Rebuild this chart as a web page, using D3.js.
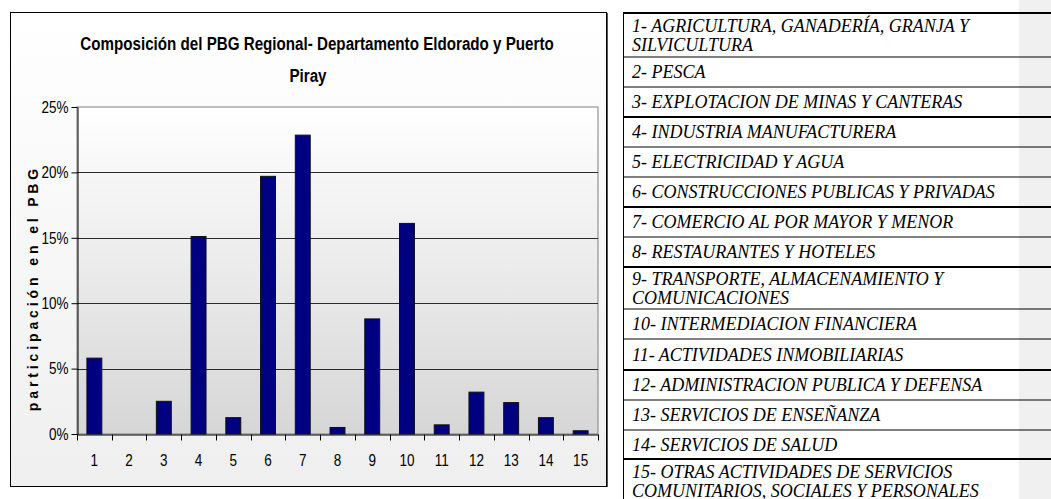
<!DOCTYPE html>
<meta charset="utf-8">
<style>
body { margin: 0; background: #fff; }
svg { display: block; }
.narrow { font-family: "Liberation Sans", Arial, sans-serif; }
.axis text { font-size: 16.5px; fill: #000; }
.axis path, .axis line { stroke: #000; }
.row text { font-family: "Liberation Serif", "Times New Roman", serif; font-style: italic; font-size: 18px; fill: #000; }
</style>
<svg width="1051" height="499"></svg>
<script src="https://cdn.jsdelivr.net/npm/d3@7"></script>
<script>
// data
var sectors = ["1","2","3","4","5","6","7","8","9","10","11","12","13","14","15"];
var shares = [0.058, 0, 0.025, 0.151, 0.0125, 0.197, 0.2285, 0.005, 0.088, 0.161, 0.007, 0.032, 0.024, 0.0125, 0.0025];
var yTicks = [0, 0.05, 0.10, 0.15, 0.20, 0.25];
var titleLines = ["Composición del PBG Regional- Departamento Eldorado y Puerto", "Piray"];
var yTitle = "p a r t i c i p a c i ó n   e n   e l   P B G";
var sectorLabels = [
  ["1- AGRICULTURA, GANADERÍA, GRANJA Y", "SILVICULTURA"],
  ["2- PESCA"],
  ["3- EXPLOTACION DE MINAS Y CANTERAS"],
  ["4- INDUSTRIA MANUFACTURERA"],
  ["5- ELECTRICIDAD Y AGUA"],
  ["6- CONSTRUCCIONES PUBLICAS Y PRIVADAS"],
  ["7- COMERCIO AL POR MAYOR Y MENOR"],
  ["8- RESTAURANTES Y HOTELES"],
  ["9- TRANSPORTE, ALMACENAMIENTO Y", "COMUNICACIONES"],
  ["10- INTERMEDIACION FINANCIERA"],
  ["11- ACTIVIDADES INMOBILIARIAS"],
  ["12- ADMINISTRACION PUBLICA Y DEFENSA"],
  ["13- SERVICIOS DE ENSEÑANZA"],
  ["14- SERVICIOS DE SALUD"],
  ["15- OTRAS ACTIVIDADES DE SERVICIOS", "COMUNITARIOS, SOCIALES Y PERSONALES"]
];

// no narrow face installed, so squeeze the sans horizontally instead
var squeeze = 0.82;

var svg = d3.select("svg");
var defs = svg.append("defs");

var g1 = defs.append("linearGradient").attr("id", "chartBg").attr("x1", 0).attr("y1", 0).attr("x2", 0).attr("y2", 1);
g1.append("stop").attr("offset", "0%").attr("stop-color", "#ffffff");
g1.append("stop").attr("offset", "100%").attr("stop-color", "#efefef");
var g2 = defs.append("linearGradient").attr("id", "plotBg").attr("x1", 0).attr("y1", 0).attr("x2", 0).attr("y2", 1);
g2.append("stop").attr("offset", "0%").attr("stop-color", "#ffffff");
g2.append("stop").attr("offset", "100%").attr("stop-color", "#d6d6d6");

// chart frame
var box = {left: 10, top: 12, right: 606, bottom: 486};
svg.append("rect")
    .attr("x", box.left + 0.5).attr("y", box.top + 0.5)
    .attr("width", box.right - box.left).attr("height", box.bottom - box.top)
    .attr("fill", "url(#chartBg)")
    .attr("stroke", "#000").attr("stroke-width", 1);
svg.append("line")
    .attr("x1", box.right + 1.5).attr("x2", box.right + 1.5)
    .attr("y1", box.top + 1).attr("y2", box.bottom + 1)
    .attr("stroke", "#555");

var plot = {left: 77, top: 107, right: 598, bottom: 434};

var x = d3.scaleBand().domain(sectors).range([plot.left, plot.right]).paddingInner(0.57).paddingOuter(0.285);
var y = d3.scaleLinear().domain([0, 0.25]).range([plot.bottom, plot.top]);

svg.append("rect")
    .attr("x", plot.left).attr("y", plot.top)
    .attr("width", plot.right - plot.left).attr("height", plot.bottom - plot.top)
    .attr("fill", "url(#plotBg)")
    .attr("stroke", "#808080");

// gridlines
svg.append("g").selectAll("line")
    .data(yTicks.filter(function(d) { return d > 0 && d < 0.25; }))
  .enter().append("line")
    .attr("x1", plot.left).attr("x2", plot.right)
    .attr("y1", function(d) { return Math.round(y(d)) + 0.5; })
    .attr("y2", function(d) { return Math.round(y(d)) + 0.5; })
    .attr("stroke", "#2a2a2a");

// bars
svg.append("g").selectAll("rect")
    .data(shares)
  .enter().append("rect")
    .attr("x", function(d, i) { return x(sectors[i]); })
    .attr("y", function(d) { return y(d); })
    .attr("width", x.bandwidth())
    .attr("height", function(d) { return y(0) - y(d); })
    .attr("fill", "#000080")
    .attr("stroke", "#111")
    .attr("stroke-width", function(d) { return d > 0 ? 1 : 0; });

// y axis
var yAxis = svg.append("g")
    .attr("class", "axis narrow")
    .attr("transform", "translate(" + (plot.left + 0.5) + ",0)")
    .call(d3.axisLeft(y).tickValues(yTicks).tickFormat(d3.format(".0%")).tickSize(6).tickPadding(3).tickSizeOuter(0));
yAxis.selectAll(".tick text")
    .attr("x", -9 / squeeze)
    .attr("transform", "scale(" + squeeze + ",1)");

// x axis: labels at band centres, ticks on band edges
var xAxis = svg.append("g")
    .attr("class", "axis narrow")
    .attr("transform", "translate(0," + (plot.bottom + 0.5) + ")")
    .call(d3.axisBottom(x).tickSize(0).tickPadding(20).tickSizeOuter(0));
xAxis.selectAll(".tick text")
    .attr("dy", "0.71em")
    .attr("transform", "scale(" + squeeze + ",1)");
xAxis.selectAll(".edge")
    .data(d3.range(sectors.length + 1))
  .enter().append("line")
    .attr("class", "edge")
    .attr("x1", function(i) { return Math.round(plot.left + i * x.step()) + 0.5; })
    .attr("x2", function(i) { return Math.round(plot.left + i * x.step()) + 0.5; })
    .attr("y1", 0).attr("y2", 6);

// titles
svg.append("g").selectAll("text")
    .data(titleLines)
  .enter().append("text")
    .attr("class", "narrow")
    .attr("transform", function(d, i) {
      return "translate(" + (i === 0 ? 317 : 308) + "," + (50 + i * 32) + ") scale(" + squeeze + ",1)";
    })
    .attr("text-anchor", "middle")
    .style("font-size", "18.5px")
    .style("font-weight", "bold")
    .text(function(d) { return d; });

svg.append("text")
    .attr("transform", "translate(38,290) rotate(-90)")
    .attr("text-anchor", "middle")
    .style("font-family", "Liberation Sans, sans-serif")
    .style("font-size", "14px")
    .style("font-weight", "bold")
    .style("white-space", "pre")
    .text(yTitle);

// sector legend table on the right
svg.append("rect")
    .attr("x", 1019).attr("y", 0).attr("width", 32).attr("height", 499)
    .attr("fill", "#f0f0f0");

var rowEdges = [13, 57, 87, 117, 147, 177, 207, 237, 267, 309, 339, 370, 400, 430, 459, 503];
var thickEdges = [0, 3, 6, 8, 11, 14];
var tableLeft = 623, tableRight = 1051;

var rows = svg.append("g").selectAll(".row")
    .data(sectorLabels)
  .enter().append("g")
    .attr("class", "row");

rows.selectAll("text")
    .data(function(d, i) {
      var mid = (rowEdges[i] + rowEdges[i + 1]) / 2;
      return d.map(function(t, j) { return {text: t, y: mid + (j - (d.length - 1) / 2) * 19 + 6}; });
    })
  .enter().append("text")
    .attr("x", 632)
    .attr("y", function(d) { return d.y; })
    .text(function(d) { return d.text; });

svg.append("g").selectAll("line")
    .data(rowEdges.slice(0, -1))
  .enter().append("line")
    .attr("x1", tableLeft).attr("x2", tableRight)
    .attr("y1", function(d) { return d; }).attr("y2", function(d) { return d; })
    .attr("stroke", "#000")
    .attr("stroke-width", function(d, i) { return thickEdges.indexOf(i) >= 0 ? 2 : 1; });

svg.append("line")
    .attr("x1", tableLeft + 0.5).attr("x2", tableLeft + 0.5)
    .attr("y1", 12).attr("y2", 499)
    .attr("stroke", "#000");
</script>
